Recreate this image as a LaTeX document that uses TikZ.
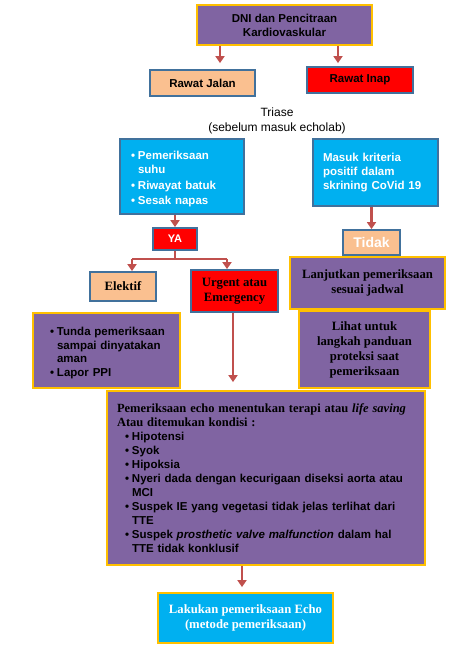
\documentclass[tikz,border=0pt]{standalone}
\usepackage{fontspec}
\setmainfont{Liberation Serif}
\setsansfont{Liberation Sans}
\usetikzlibrary{arrows.meta}
\definecolor{ungu}{HTML}{8064A2}
\definecolor{emas}{HTML}{FFC000}
\definecolor{biru}{HTML}{00B0F0}
\definecolor{tepi}{HTML}{41719C}
\definecolor{jingga}{HTML}{FAC090}
\definecolor{merah}{HTML}{FF0000}
\definecolor{merahpanah}{HTML}{C0504D}
\newcommand{\butir}[1]{\par\noindent\hangindent=7pt\hangafter=1\makebox[7pt][l]{\textbullet}#1}
\begin{document}
\begin{tikzpicture}[x=1pt, y=-1pt,
  kotak/.style={draw, line width=1.8pt, inner sep=3pt, align=center, font=\sffamily\bfseries\fontsize{11.5}{14}\selectfont},
  kotakungu/.style={kotak, fill=ungu, draw=emas},
  kotakbiru/.style={kotak, fill=biru, draw=tepi, text=white},
  kotakjingga/.style={kotak, fill=jingga, draw=tepi},
  kotakmerah/.style={kotak, fill=merah, draw=tepi},
  serif/.style={font=\rmfamily\bfseries\fontsize{12.7}{15}\selectfont},
  garis/.style={draw=merahpanah, line width=2.4pt},
  panah/.style={garis, -{Triangle[width=9pt,length=7pt]}}]
  \useasboundingbox (0,0) rectangle (464,655);

  % baris atas
  \node[kotakungu, minimum width=175pt, minimum height=40pt] (dni) at (284.5,25) {DNI dan Pencitraan\\Kardiovaskular};
  \node[kotakjingga, minimum width=105pt, minimum height=26pt] (jalan) at (202.5,83) {Rawat Jalan};
  \node[kotakmerah, minimum width=106pt, minimum height=26pt] (inap) at (360,80) {Rawat Inap};
  \node[align=center, font=\sffamily\fontsize{12}{15}\selectfont] (triase) at (277,121) {Triase\\(sebelum masuk echolab)};

  % skrining
  \node[kotakbiru, align=left, inner xsep=11pt, text width=102pt, minimum height=75pt] (skrin) at (182,176.5)
    {\butir{Pemeriksaan\newline suhu}\vspace{1.5pt}\butir{Riwayat batuk}\vspace{1.5pt}\butir{Sesak napas}};
  \node[kotakbiru, align=left, inner xsep=10pt, text width=105pt, minimum height=67pt] (covid) at (375.5,172.5)
    {Masuk kriteria\\positif dalam\\skrining CoVid 19};
  \node[kotakmerah, text=white, minimum width=44pt, minimum height=22pt, font=\sffamily\bfseries\fontsize{11}{13}\selectfont] (ya) at (175,239) {YA};
  \node[kotakjingga, text=white, minimum width=57pt, minimum height=25pt, font=\sffamily\bfseries\fontsize{14}{16}\selectfont] (tidak) at (371.5,242.5) {Tidak};

  % cabang
  \node[kotakjingga, serif, minimum width=66pt, minimum height=29pt] (elektif) at (123,286.5) {Elektif};
  \node[kotakmerah, serif, minimum width=87pt, minimum height=42pt] (urgent) at (234.5,291) {Urgent atau\\Emergency};
  \node[kotakungu, serif, minimum width=155pt, minimum height=52pt] (lanjut) at (367.5,283) {Lanjutkan pemeriksaan\\sesuai jadwal};
  \node[kotakungu, serif, minimum width=131pt, minimum height=77pt] (lihat) at (364.5,349.5) {Lihat untuk\\langkah panduan\\proteksi saat\\pemeriksaan};
  \node[kotakungu, align=left, inner xsep=11pt, text width=125pt, minimum height=75pt, font=\sffamily\bfseries\fontsize{11.5}{13.5}\selectfont] (tunda) at (106.5,350.5)
    {\leftskip=6pt\hyphenpenalty=10000
     \butir{Tunda pemeriksaan\newline sampai dinyatakan\newline aman}\butir{Lapor PPI}\par};

  % kotak utama
  \node[kotakungu, align=left, inner xsep=10pt, text width=298pt, minimum height=174pt] (utama) at (266,478)
    {{\rmfamily\fontsize{12.5}{14}\selectfont Pemeriksaan echo menentukan terapi atau \textit{life saving}\\Atau ditemukan kondisi :\par}
     {\leftskip=8pt
     \butir{Hipotensi}\butir{Syok}\butir{Hipoksia}
     \butir{Nyeri dada dengan kecurigaan diseksi aorta atau\newline MCI}
     \butir{Suspek IE yang vegetasi tidak jelas terlihat dari\newline TTE}
     \butir{Suspek \textit{prosthetic valve malfunction} dalam hal\newline TTE tidak konklusif}\par}};
  \node[kotak, serif, fill=biru, draw=emas, text=white, minimum width=175pt, minimum height=50pt] (lakukan) at (245.5,618) {Lakukan pemeriksaan Echo\\(metode pemeriksaan)};

  % panah
  \draw[panah, shorten >=6pt] (dni.south -| 220,0) -- (220,0 |- jalan.north);
  \draw[panah, shorten >=3pt] (dni.south -| 338,0) -- (338,0 |- inap.north);
  \draw[panah] (skrin.south -| ya) -- (ya.north);
  \draw[panah] (covid.south -| tidak) -- (tidak.north);
  \draw[garis] (ya.south) -- ++(0,8) coordinate (simpang);
  \draw[garis] (simpang -| 132,0) -- (simpang -| 227,0);
  \draw[panah] (simpang -| 132,0) -- (132,0 |- elektif.north);
  \draw[panah] (simpang -| 227,0) -- (227,0 |- urgent.north);
  \draw[panah, shorten >=8pt] (urgent.south -| 233,0) -- (233,0 |- utama.north);
  \draw[panah, shorten >=5pt] (utama.south -| 242,0) -- (242,0 |- lakukan.north);
\end{tikzpicture}
\end{document}
